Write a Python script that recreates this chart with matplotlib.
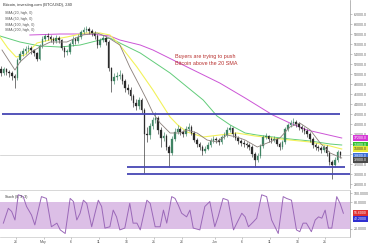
#!/usr/bin/env python3
"""Bitcoin 4H chart with SMAs, support/resistance lines and a stochastic panel."""
import matplotlib as mpl
mpl.use("Agg")
import matplotlib.pyplot as plt
import matplotlib.transforms as mtransforms

# x axis is days since Apr 23 (half-day candles)
CLOSES = [
    50200, 50900, 50300, 50100, 49500, 49200, 52800, 54000, 54600, 55000,
    55200, 54800, 54200, 53000, 55600, 57000, 57600, 57400, 57000, 56600,
    57200, 56800, 55200, 54400, 54400, 56000, 57000, 56600, 57400, 58400,
    58800, 59000, 58600, 58200, 57600, 55800, 56800, 57200, 56400, 51200,
    48600, 49400, 49600, 49800, 48600, 47200, 46800, 45600, 44200, 43600,
    44800, 42800, 38000, 37800, 39600, 40800, 41200, 38800, 37200, 37600,
    35400, 34200, 37000, 38400, 39000, 38400, 38000, 39000, 39400, 38200,
    36800, 36000, 35400, 34600, 35000, 35800, 36600, 37000, 36800, 36400,
    37400, 37800, 38800, 39200, 38000, 37200, 36600, 36200, 36000, 35800,
    35400, 34000, 32800, 33600, 35600, 37400, 37600, 37000, 36800, 37000,
    36000, 35400, 36400, 39000, 39800, 40200, 40400, 40000, 39400, 39000,
    38600, 38000, 37000, 35800, 35400, 35200, 34800, 35400, 34200, 32400,
    31800, 32800, 34400, 33800,
]
FIRST_OPEN = 51000
HIGHS = [
    51600, 51400, 51200, 50800, 50600, 49900, 53200, 54600, 55200, 55600,
    55800, 55600, 55000, 54400, 56000, 57600, 58000, 58200, 57800, 57400,
    57800, 57600, 57000, 55600, 55000, 56400, 57600, 57400, 58000, 58800,
    59400, 59600, 59400, 59000, 58600, 58000, 57200, 57800, 57600, 56800,
    51400, 50200, 50400, 50800, 50200, 49000, 48000, 47400, 46000, 45000,
    45400, 45200, 43200, 39400, 40200, 41400, 42400, 41600, 39400, 38400,
    38000, 35800, 37600, 39200, 39800, 39400, 38800, 39600, 40200, 39800,
    38600, 37200, 36400, 35800, 35600, 36400, 37200, 37600, 37400, 37200,
    37800, 38400, 39400, 39800, 39400, 38400, 37600, 37000, 36800, 36400,
    36200, 35800, 34400, 34200, 36000, 37800, 38200, 37800, 37400, 37600,
    37200, 36400, 36800, 39400, 40200, 40800, 41200, 40800, 40400, 39800,
    39400, 39000, 38400, 37400, 36200, 35800, 35600, 35800, 35800, 34600,
    32800, 33400, 34800, 34600,
]
LOWS = [
    49600, 49800, 49800, 49400, 48800, 47200, 48800, 52400, 53600, 54000,
    54400, 54000, 53600, 52600, 52800, 55200, 56600, 56800, 56400, 56000,
    56200, 56200, 54800, 53400, 53800, 54000, 55600, 56000, 56200, 57000,
    58000, 58400, 58000, 57600, 57000, 55200, 55400, 56400, 55800, 50600,
    46400, 48000, 48800, 49000, 48000, 46400, 46000, 44800, 43400, 42800,
    43000, 42200, 30200, 36400, 37000, 39000, 40200, 38000, 35400, 36600,
    34800, 31400, 33800, 36600, 38000, 37800, 37400, 37600, 38600, 37800,
    36400, 35400, 34800, 33800, 34200, 34800, 35400, 36200, 36200, 35800,
    36000, 37000, 37400, 38400, 37400, 36800, 36000, 35600, 35400, 35200,
    34800, 33400, 31400, 32400, 33200, 35200, 37000, 36400, 36200, 36400,
    35600, 34800, 35000, 36000, 38600, 39400, 39800, 39400, 38800, 38400,
    38000, 37400, 36400, 35200, 34800, 34600, 34200, 34400, 33600, 31800,
    29000, 31400, 32400, 33200,
]

# moving averages: (day, price)
SMA20_DAYS = [0.45, 2.8, 3.7, 5.5, 7.3, 9.2, 12.2, 15.1, 17.7, 19.5, 21.8, 23.6,
              25.5, 26.7, 27.8, 29.1, 30.9, 32.7, 34.0, 35.8, 37.6, 39.4, 41.2,
              43.0, 44.5, 46.7, 48.5, 50.8, 52.6, 54.4, 56.3, 58.1, 59.9, 62.0]
SMA20_VALS = [54800, 50800, 52400, 54200, 55400, 56400, 56400, 57800, 58200, 57400,
              55800, 51400, 47400, 44800, 42200, 40200, 38200, 38200, 38800, 38200,
              36800, 36400, 37800, 37400, 36800, 35400, 36200, 37200, 39400, 40200,
              38800, 36200, 34200, 33200]
SMA50_DAYS = [0.1, 1.5, 3.0, 4.6, 6.8, 9.1, 12.2, 15.5, 18.2, 20.0, 21.8, 24.9,
              27.8, 30.9, 32.3, 34.0, 36.9, 39.9, 43.0, 46.3, 49.5, 52.6, 56.3,
              59.9, 62.0]
SMA50_VALS = [57400, 55200, 53400, 53800, 56200, 56800, 57400, 58200, 58200, 57800,
              55800, 51400, 46800, 41400, 39800, 38400, 37400, 37800, 38200, 37600,
              37200, 36800, 36400, 35600, 35000]
SMA100_DAYS = [0.1, 3.7, 7.3, 11.0, 14.6, 18.2, 20.0, 21.8, 25.5, 30.9, 34.0, 36.9,
               39.4, 41.8, 44.5, 46.6, 49.5, 52.6, 56.3, 59.9, 62.0]
SMA100_VALS = [57600, 56400, 55600, 55400, 55800, 56800, 57200, 56200, 54200, 50200,
               47400, 44800, 41600, 39800, 38200, 37800, 37400, 37000, 36600, 36000,
               35800]
SMA200_DAYS = [5.5, 11.0, 16.4, 20.0, 21.8, 25.5, 27.8, 34.0, 39.9, 44.5, 49.5,
               52.6, 55.7, 62.0]
SMA200_VALS = [57800, 58000, 58000, 57600, 56800, 55800, 54800, 51400, 48200, 45200,
               41800, 40200, 38800, 37200]

# horizontal support / resistance lines: level, start day, end day
LEVELS = [41900, 31400, 30000]
LEVEL_START = [0.45, 23.1, 23.1]
LEVEL_END = [61.7, 62.6, 63.5]
LAST_PRICE = 33800

# stochastic %K
STOCH_DAYS = [0.7, 1.6, 2.2, 2.8, 3.4, 4.3, 4.9, 5.8, 6.4, 7.6, 8.5, 9.4, 10.4, 11.0,
              11.9, 12.8, 13.4, 14.0, 14.6, 15.2, 15.8, 16.7, 17.3, 17.9, 18.5, 19.1,
              20.0, 20.6, 21.2, 21.8, 22.7, 23.6, 24.2, 24.9, 25.5, 26.7, 27.3, 28.2,
              29.1, 29.7, 30.3, 31.2, 31.8, 32.4, 33.0, 33.9, 34.5, 35.1, 36.3, 37.2,
              38.1, 39.0, 39.6, 40.5, 41.4, 42.4, 43.0, 43.9, 44.5, 45.1, 46.0, 46.6,
              47.5, 48.4, 49.3, 49.9, 50.5, 51.4, 52.0, 52.9, 53.8, 54.4, 55.0, 55.6,
              56.5, 57.2, 57.8, 58.4, 59.0, 59.6, 60.2, 61.1, 61.7, 62.3]
STOCH_VALS = [33, 66, 59, 40, 96, 92, 70, 51, 29, 92, 88, 25, 33, 18,
              10, 88, 81, 40, 55, 84, 77, 25, 55, 84, 70, 22,
              25, 62, 47, 18, 22, 77, 33, 33, 18, 84, 77, 25,
              25, 62, 33, 92, 88, 73, 55, 47, 62, 22, 18, 70,
              81, 25, 47, 88, 84, 18, 33, 55, 47, 25, 36, 44,
              96, 92, 40, 25, 10, 92, 88, 84, 18, 14, 33, 33,
              14, 40, 47, 44, 62, 22, 22, 92, 77, 55]

TICK_DAYS = [3, 8, 13, 18, 23, 28, 33, 39, 44, 49, 54, 59]
TICK_LABELS = ["26", "May", "6", "11", "16", "21", "26", "Jun", "6", "11", "16", "21"]
PRICE_TICKS = list(range(28000, 62001, 2000))

UP = "#3f8363"
DOWN = "#2b2b2b"
BLUE = "#4646b4"
C20, C50, C100, C200 = "#8a7f7a", "#f2f25a", "#62cc7a", "#cc55d6"
SMALL = 2.6

W, H = 370, 245
fig = plt.figure(figsize=(W / 100, H / 100), dpi=100)
plt.rcParams["font.family"] = ["Liberation Sans", "DejaVu Sans"]


def px_axes(x0, y0, x1, y1):
    return fig.add_axes([x0 / W, 1 - y1 / H, (x1 - x0) / W, (y1 - y0) / H])


ax = px_axes(0, 0, 350, 188)
ax.set_xlim(0.09, 63.5)
ax.set_ylim(27200, 64800)

opens = [FIRST_OPEN] + CLOSES[:-1]
days = [i * 0.5 + 0.25 for i in range(len(CLOSES))]
colors = [UP if c >= o else DOWN for o, c in zip(opens, CLOSES)]
ax.axhline(LAST_PRICE, color="#c8c8c8", lw=0.5, zorder=1)
ax.vlines(days, LOWS, HIGHS, colors=colors, lw=0.45, zorder=4)
ax.bar(days, [max(abs(c - o), 120) for o, c in zip(opens, CLOSES)],
       bottom=[min(o, c) for o, c in zip(opens, CLOSES)], width=0.28,
       color=colors, edgecolor=colors, linewidth=0.2, zorder=5)

ax.plot(SMA200_DAYS, SMA200_VALS, color=C200, lw=0.7, zorder=3)
ax.plot(SMA100_DAYS, SMA100_VALS, color=C100, lw=0.7, zorder=3)
ax.plot(SMA50_DAYS, SMA50_VALS, color=C50, lw=0.8, zorder=3)
ax.plot(SMA20_DAYS, SMA20_VALS, color=C20, lw=0.6, zorder=6)
ax.hlines(LEVELS, LEVEL_START, LEVEL_END, colors=BLUE, lw=1.3, zorder=7)

for side in ["top", "left", "bottom"]:
    ax.spines[side].set_visible(False)
ax.spines["right"].set_color("#9a9a9a")
ax.spines["right"].set_linewidth(0.5)
ax.set_xticks([])
ax.yaxis.tick_right()
ax.set_yticks(PRICE_TICKS)
ax.set_yticklabels([f"{v:.1f}" for v in PRICE_TICKS])
ax.tick_params(axis="y", labelsize=SMALL, colors="#9a9a9a", labelcolor="#666666",
               length=1.5, width=0.4, pad=1.5)

ax.text(0.008, 0.985, "Bitcoin, investing.com (BTC/USD), 240", transform=ax.transAxes,
        fontsize=2.9, color="#333333", va="top", ha="left")
for k, lab in enumerate(["SMA (20, high, 0)", "SMA (50, high, 0)",
                         "SMA (100, high, 0)", "SMA (200, high, 0)"]):
    ax.text(0.014, 0.94 - k * 0.03, lab, transform=ax.transAxes, fontsize=2.5,
            color="#555555", va="top", ha="left")

ax.text(0.5, 0.715, "Buyers are trying to push\nBitcoin above the 20 SMA",
        transform=ax.transAxes, fontsize=3.9, color="#b8312f", va="top", ha="left",
        linespacing=1.5)

# value tags on the price scale
tag = mtransforms.blended_transform_factory(ax.transAxes, ax.transData)
for val, face, txt in [(37200, "#d63ad6", "white"), (35800, "#2fbf2f", "white"),
                       (35000, "#e8e83a", "#333333"), (33600, "#3d6fd8", "white"),
                       (32800, "#4a4a4a", "white")]:
    ax.text(1.012, val, f"{val:.1f}", transform=tag, fontsize=2.5, color=txt,
            va="center", ha="left",
            bbox=dict(boxstyle="square,pad=0.25", facecolor=face, edgecolor="none"))

# stochastic panel
sx = px_axes(0, 190, 350, 237)
sx.set_xlim(0.09, 63.5)
sx.set_ylim(2.2, 106.7)
sx.axhspan(20, 80, color="#dcbfe6", lw=0, zorder=1)
sx.plot(STOCH_DAYS, STOCH_VALS, color="#9a68b8", lw=0.7, zorder=3)
sx.spines["left"].set_visible(False)
for side in ["top", "bottom"]:
    sx.spines[side].set_color("#c8c8c8")
    sx.spines[side].set_linewidth(0.5)
sx.spines["right"].set_color("#9a9a9a")
sx.spines["right"].set_linewidth(0.5)
sx.yaxis.tick_right()
sx.set_yticks([100, 80, 20])
sx.set_yticklabels(["100.0000", "80.0000", "20.0000"])
sx.tick_params(axis="y", labelsize=SMALL, colors="#9a9a9a", labelcolor="#666666",
               length=1.5, width=0.4, pad=1.5)
sx.set_xticks(TICK_DAYS)
sx.set_xticklabels(TICK_LABELS)
sx.tick_params(axis="x", labelsize=SMALL, colors="#9a9a9a", labelcolor="#555555",
               length=1.2, width=0.4, pad=0.8)
sx.text(0.014, 0.9, "Stoch (8, 3, 3)", transform=sx.transAxes, fontsize=2.5,
        color="#333333", va="top", ha="left")
stag = mtransforms.blended_transform_factory(sx.transAxes, sx.transData)
for val, face in [(55.6, "#e03030"), (42.2, "#3030d0")]:
    sx.text(1.012, val, f"{val:.4f}", transform=stag, fontsize=2.5, color="white",
            va="center", ha="left",
            bbox=dict(boxstyle="square,pad=0.25", facecolor=face, edgecolor="none"))

fig.savefig("out.png", dpi=100, facecolor="white")
